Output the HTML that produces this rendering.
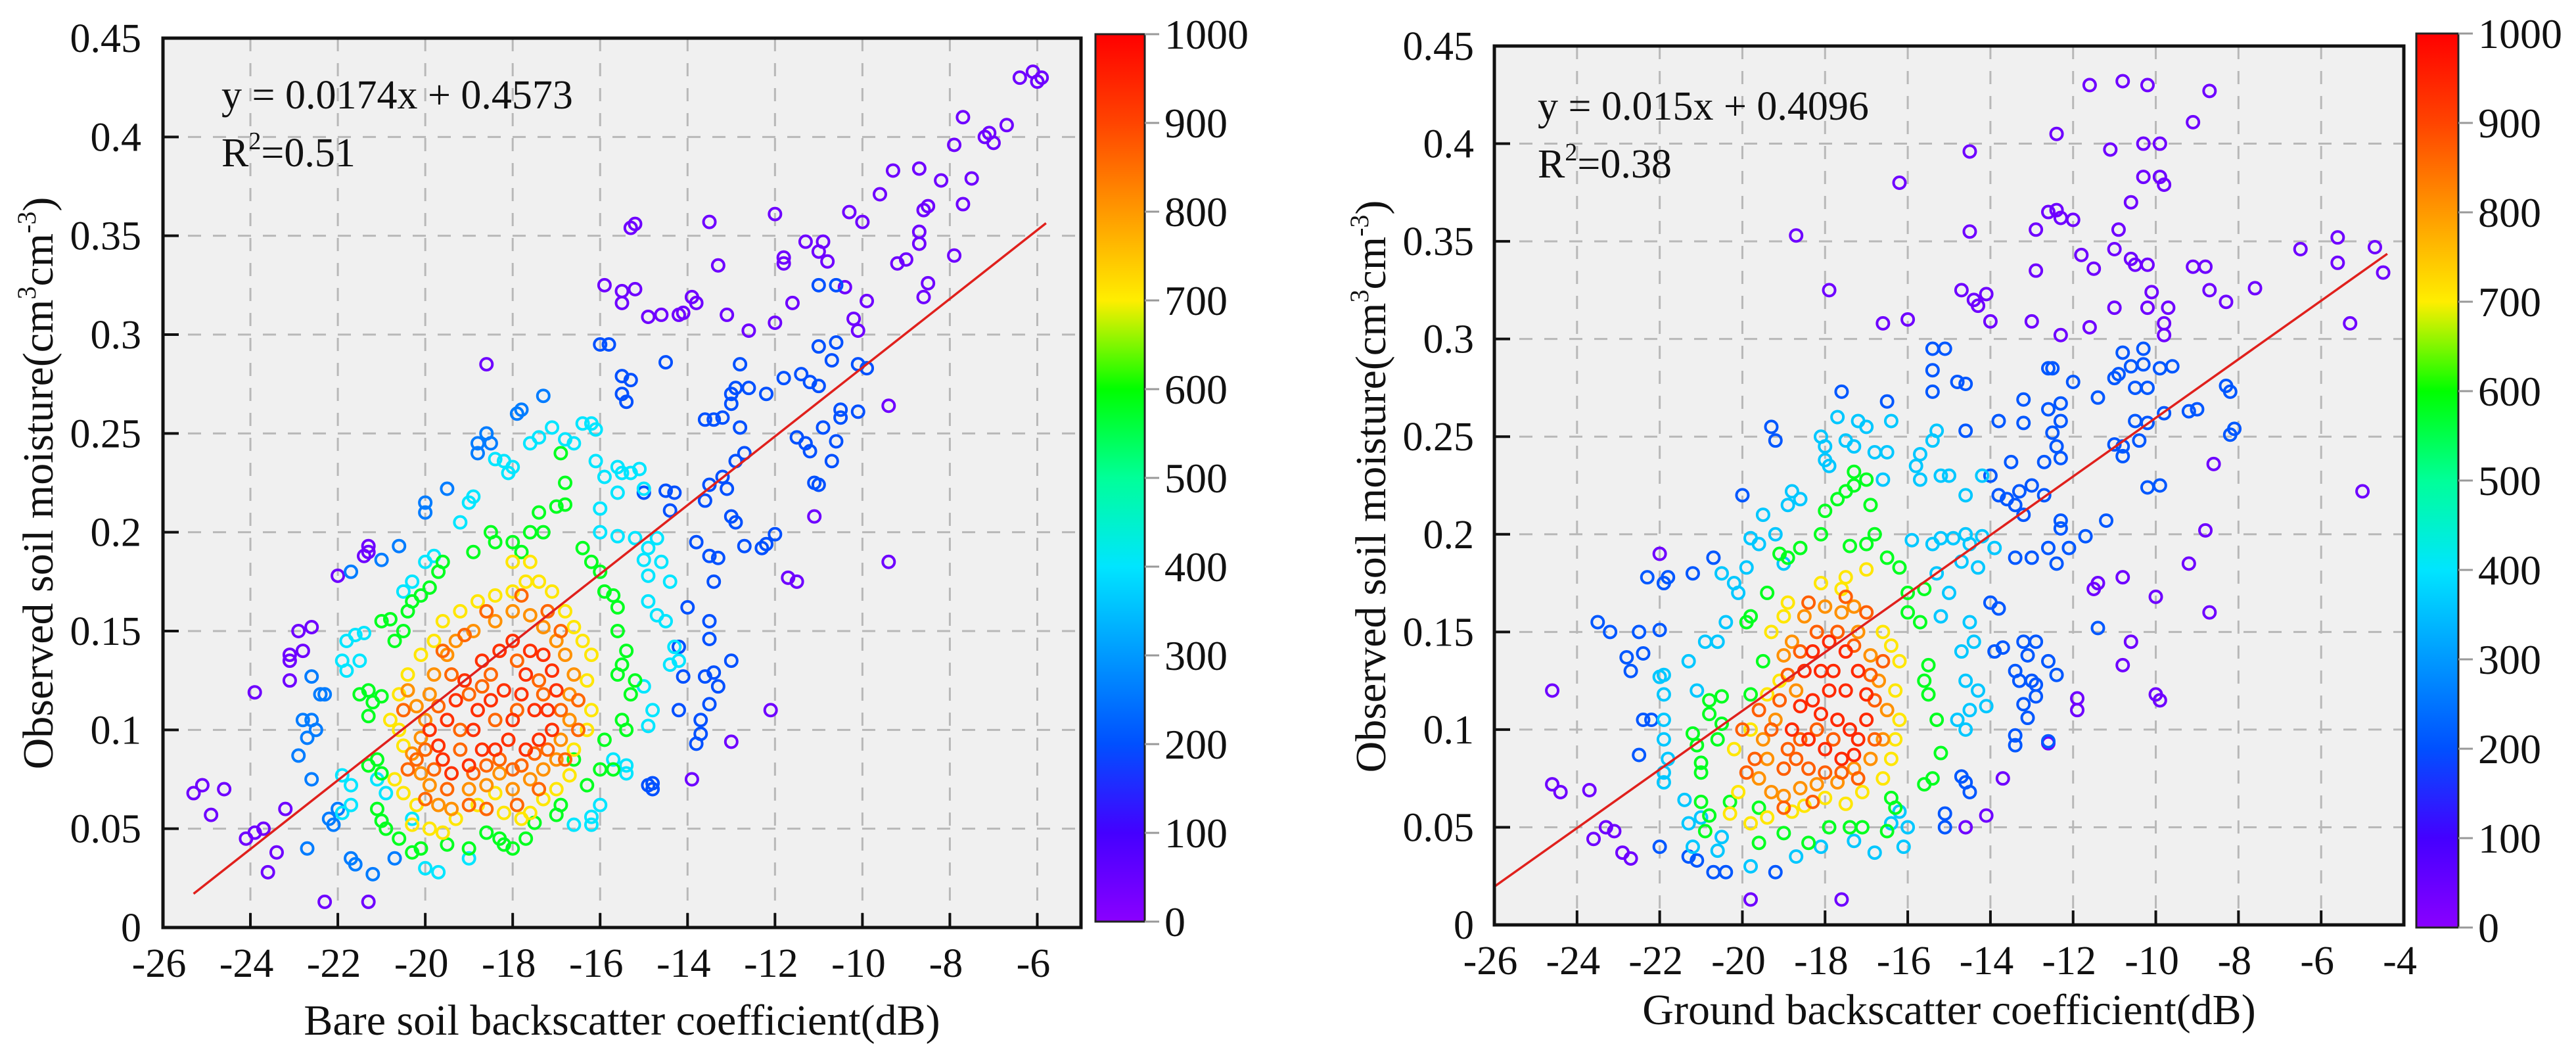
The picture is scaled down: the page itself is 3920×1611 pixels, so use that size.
<!DOCTYPE html>
<html><head><meta charset="utf-8"><style>
html,body{margin:0;padding:0;background:#fff;}
svg{display:block;font-family:"Liberation Serif",serif;}
</style></head><body>
<svg id="fig" xmlns="http://www.w3.org/2000/svg" width="3920" height="1611" viewBox="0 0 3920 1611">
<defs>
<linearGradient id="cmap" x1="0" y1="1" x2="0" y2="0">
<stop offset="0" stop-color="#8a00ff"/><stop offset="0.1" stop-color="#4400ff"/><stop offset="0.2" stop-color="#0050ff"/><stop offset="0.3" stop-color="#0099ff"/><stop offset="0.4" stop-color="#00e5ff"/><stop offset="0.5" stop-color="#00ff99"/><stop offset="0.6" stop-color="#00ff00"/><stop offset="0.7" stop-color="#ffee00"/><stop offset="0.8" stop-color="#ff9900"/><stop offset="0.9" stop-color="#ff4400"/><stop offset="1" stop-color="#ff0000"/>
</linearGradient>
</defs>
</svg>
<script>
// ---- data: left panel (bare soil) ----
const leftPurple=[[-25.3,0.068],[-25.1,0.072],[-24.9,0.057],[-24.6,0.070],[-24.1,0.045],[-23.9,0.048],[-23.7,0.050],[-23.6,0.028],[-23.4,0.038],[-23.2,0.060],[-22.3,0.013],[-21.3,0.013],[-23.9,0.119],[-23.1,0.125],[-23.1,0.135],[-23.1,0.138],[-22.9,0.150],[-22.8,0.140],[-22.6,0.152],[-22.0,0.178],[-21.3,0.190],[-21.3,0.193],[-21.4,0.188],[-18.6,0.285],[-15.3,0.354],[-15.2,0.356],[-13.5,0.357],[-12.0,0.361],[-15.9,0.325],[-15.5,0.322],[-15.5,0.316],[-15.2,0.323],[-14.9,0.309],[-14.6,0.310],[-14.2,0.310],[-14.1,0.311],[-13.9,0.319],[-13.8,0.316],[-13.3,0.335],[-13.1,0.310],[-12.6,0.302],[-12.0,0.306],[-11.6,0.316],[-11.8,0.336],[-11.8,0.339],[-11.3,0.347],[-11.0,0.342],[-10.9,0.347],[-10.8,0.337],[-10.4,0.324],[-10.3,0.362],[-10.0,0.357],[-9.6,0.371],[-9.3,0.383],[-8.7,0.384],[-8.5,0.365],[-8.6,0.363],[-8.2,0.378],[-7.9,0.396],[-7.7,0.410],[-7.5,0.379],[-7.2,0.400],[-7.1,0.402],[-7.0,0.397],[-6.7,0.406],[-6.4,0.430],[-6.1,0.433],[-6.0,0.428],[-5.9,0.430],[-7.7,0.366],[-7.9,0.340],[-8.7,0.352],[-8.7,0.346],[-8.6,0.319],[-8.5,0.326],[-9.0,0.338],[-9.2,0.336],[-9.9,0.317],[-10.2,0.308],[-10.1,0.302],[-9.4,0.264],[-9.4,0.185],[-11.1,0.208],[-12.1,0.110],[-11.7,0.177],[-11.5,0.175],[-13.0,0.094],[-13.9,0.075]];
const leftBlue=[[-16.0,0.295],[-15.8,0.295],[-15.5,0.279],[-15.3,0.277],[-15.5,0.270],[-15.4,0.266],[-14.5,0.286],[-13.6,0.257],[-13.4,0.257],[-13.2,0.258],[-13.0,0.265],[-13.0,0.270],[-12.9,0.273],[-12.8,0.285],[-12.6,0.273],[-12.2,0.270],[-11.8,0.278],[-11.4,0.280],[-11.2,0.276],[-11.0,0.274],[-11.0,0.294],[-10.6,0.296],[-10.7,0.287],[-10.5,0.262],[-10.5,0.258],[-10.6,0.246],[-10.9,0.253],[-10.7,0.236],[-11.2,0.241],[-11.5,0.248],[-11.3,0.245],[-11.0,0.224],[-11.1,0.225],[-12.8,0.253],[-12.7,0.240],[-12.9,0.236],[-13.1,0.222],[-13.2,0.228],[-13.5,0.224],[-13.6,0.216],[-12.9,0.205],[-13.0,0.208],[-12.7,0.193],[-12.3,0.192],[-12.2,0.194],[-12.0,0.199],[-10.1,0.285],[-9.9,0.283],[-10.1,0.261],[-10.6,0.325],[-11.0,0.325],[-13.8,0.195],[-13.5,0.188],[-13.4,0.175],[-13.3,0.187],[-13.5,0.155],[-13.5,0.146],[-13.0,0.135],[-13.4,0.129],[-13.6,0.127],[-13.3,0.122],[-13.5,0.113],[-13.7,0.105],[-13.7,0.098],[-13.8,0.093],[-14.0,0.162],[-14.2,0.142],[-14.1,0.127],[-14.2,0.110],[-14.8,0.073],[-14.8,0.070],[-14.9,0.072],[-14.4,0.211],[-14.5,0.221],[-14.3,0.220],[-15.0,0.220]];
const leftBlue2=[[-22.6,0.127],[-22.4,0.118],[-22.3,0.118],[-22.8,0.105],[-22.6,0.105],[-22.5,0.100],[-22.7,0.096],[-22.9,0.087],[-22.6,0.075],[-22.7,0.040],[-21.2,0.027],[-20.7,0.035],[-21.6,0.032],[-21.7,0.035],[-22.0,0.060],[-22.2,0.055],[-22.1,0.052],[-21.7,0.180],[-21.0,0.186],[-20.6,0.193],[-19.5,0.222],[-20.0,0.215],[-20.0,0.210],[-18.6,0.250],[-18.8,0.245],[-18.8,0.240],[-18.5,0.245],[-17.9,0.260],[-17.8,0.262],[-17.3,0.269]];
const leftCyan=[[-21.8,0.145],[-21.6,0.148],[-21.4,0.149],[-21.9,0.135],[-21.8,0.130],[-21.5,0.135],[-21.9,0.077],[-21.7,0.072],[-21.7,0.062],[-21.9,0.058],[-21.1,0.075],[-20.9,0.068],[-20.3,0.055],[-20.0,0.030],[-19.7,0.028],[-19.0,0.035],[-20.5,0.170],[-20.3,0.175],[-20.0,0.185],[-19.8,0.188],[-19.2,0.205],[-19.0,0.215],[-18.9,0.218],[-18.4,0.237],[-18.2,0.236],[-18.1,0.230],[-18.0,0.233],[-17.6,0.245],[-17.4,0.248],[-17.1,0.253],[-16.8,0.247],[-16.6,0.245],[-16.4,0.255],[-16.2,0.255],[-16.1,0.252],[-16.1,0.236],[-15.9,0.228],[-15.6,0.233],[-15.5,0.230],[-15.3,0.230],[-15.1,0.232],[-15.0,0.222],[-15.6,0.220],[-16.0,0.212],[-16.0,0.200],[-15.6,0.198],[-15.2,0.197],[-14.9,0.192],[-14.7,0.197],[-14.6,0.185],[-14.9,0.178],[-15.0,0.186],[-14.9,0.165],[-14.7,0.158],[-14.5,0.155],[-14.4,0.175],[-14.3,0.142],[-14.2,0.135],[-14.4,0.133],[-16.0,0.062],[-16.2,0.056],[-16.2,0.052],[-16.6,0.052],[-15.4,0.078],[-15.4,0.082],[-15.7,0.085],[-14.9,0.102],[-14.8,0.110],[-15.0,0.122]];
const leftGreen=[[-21.5,0.118],[-21.3,0.120],[-21.2,0.114],[-21.3,0.107],[-21.0,0.117],[-21.3,0.082],[-21.1,0.085],[-21.0,0.078],[-21.1,0.060],[-21.0,0.054],[-20.9,0.050],[-20.6,0.045],[-20.3,0.038],[-20.1,0.040],[-19.5,0.042],[-19.0,0.040],[-18.6,0.048],[-18.3,0.045],[-18.2,0.042],[-18.0,0.040],[-17.7,0.045],[-17.5,0.053],[-17.0,0.057],[-16.9,0.062],[-21.0,0.155],[-20.8,0.156],[-20.5,0.150],[-20.7,0.145],[-20.4,0.160],[-20.3,0.165],[-20.1,0.168],[-19.9,0.172],[-19.6,0.185],[-19.7,0.180],[-18.9,0.190],[-18.5,0.200],[-18.4,0.195],[-18.0,0.195],[-17.8,0.190],[-17.6,0.200],[-17.4,0.210],[-17.3,0.200],[-17.0,0.213],[-16.8,0.214],[-16.8,0.225],[-16.9,0.240],[-16.4,0.192],[-16.2,0.185],[-16.0,0.180],[-15.9,0.170],[-15.7,0.168],[-15.6,0.162],[-15.6,0.150],[-15.4,0.140],[-15.5,0.133],[-15.6,0.128],[-15.3,0.118],[-15.2,0.125],[-15.5,0.105],[-15.4,0.100],[-15.9,0.095],[-16.0,0.080],[-15.7,0.080],[-16.3,0.072],[-16.6,0.085]];
const leftYellow=[[-20.8,0.105],[-20.6,0.100],[-20.5,0.092],[-20.7,0.075],[-20.5,0.068],[-20.2,0.062],[-20.3,0.052],[-19.9,0.050],[-19.6,0.048],[-19.3,0.055],[-18.8,0.062],[-18.4,0.068],[-18.2,0.058],[-17.8,0.055],[-17.6,0.058],[-17.3,0.065],[-17.0,0.070],[-16.7,0.077],[-16.6,0.090],[-16.3,0.100],[-16.2,0.110],[-16.3,0.125],[-16.2,0.138],[-16.4,0.145],[-16.6,0.152],[-16.8,0.160],[-17.1,0.170],[-17.4,0.175],[-17.7,0.175],[-18.0,0.170],[-18.4,0.168],[-18.8,0.165],[-19.2,0.160],[-19.6,0.155],[-19.8,0.145],[-20.1,0.138],[-20.4,0.128],[-20.6,0.118],[-17.6,0.185],[-18.0,0.185]];
const leftOrange=[[-20.4,0.120],[-20.2,0.112],[-20.0,0.105],[-20.1,0.096],[-20.3,0.088],[-20.1,0.078],[-19.9,0.072],[-19.7,0.062],[-19.4,0.060],[-19.0,0.070],[-18.6,0.072],[-18.3,0.078],[-18.0,0.070],[-17.6,0.075],[-17.3,0.080],[-17.0,0.085],[-16.9,0.095],[-16.7,0.105],[-16.7,0.118],[-16.6,0.128],[-16.8,0.138],[-17.0,0.145],[-17.3,0.152],[-17.6,0.158],[-18.0,0.160],[-18.4,0.155],[-18.9,0.150],[-19.3,0.145],[-19.5,0.138],[-19.8,0.128],[-19.9,0.118]];
const leftCore=[[-20.2,0.085],[-19.8,0.080],[-19.5,0.070],[-19.2,0.090],[-18.9,0.078],[-18.6,0.082],[-18.3,0.085],[-18.0,0.080],[-17.8,0.082],[-17.5,0.088],[-17.2,0.090],[-16.9,0.110],[-17.4,0.125],[-17.9,0.135],[-18.5,0.128],[-19.0,0.118],[-19.4,0.128],[-19.7,0.112],[-20.0,0.090],[-18.4,0.105],[-18.7,0.122],[-17.9,0.110],[-17.3,0.118],[-19.2,0.100],[-19.0,0.062],[-18.6,0.060],[-17.9,0.062],[-17.4,0.070],[-20.0,0.065],[-20.4,0.080],[-20.5,0.110],[-19.6,0.140],[-19.1,0.148],[-18.6,0.160],[-17.8,0.168],[-17.2,0.160],[-16.9,0.150],[-16.5,0.115],[-16.5,0.100],[-16.8,0.085]];
const leftRed=[[-19.9,0.100],[-19.7,0.092],[-19.6,0.085],[-19.4,0.078],[-19.0,0.082],[-18.7,0.090],[-18.4,0.090],[-18.1,0.095],[-17.7,0.090],[-17.4,0.095],[-17.1,0.100],[-17.2,0.110],[-17.0,0.120],[-17.1,0.130],[-17.3,0.138],[-17.6,0.140],[-18.0,0.145],[-18.3,0.140],[-18.7,0.135],[-19.1,0.125],[-19.3,0.115],[-19.5,0.105],[-18.2,0.120],[-18.5,0.115],[-17.8,0.118],[-18.9,0.100],[-17.5,0.110],[-18.0,0.105],[-18.8,0.110],[-17.7,0.128]];
const leftGroups=[[leftPurple,40],[leftBlue,200],[leftBlue2,260],[leftCyan,400],[leftGreen,580],[leftYellow,710],[leftOrange,810],[leftCore,860],[leftRed,930]];
const leftFit=[0.0174,0.4573];
const leftFitRange=[-25.3,-5.8];

// ---- data: right panel (ground) ----
const rightPurple=[[-24.6,0.120],[-24.6,0.072],[-24.4,0.068],[-23.7,0.069],[-23.6,0.044],[-23.3,0.050],[-23.1,0.048],[-22.9,0.037],[-22.7,0.034],[-22.0,0.190],[-18.7,0.353],[-17.9,0.325],[-16.2,0.380],[-16.6,0.308],[-16.0,0.310],[-14.5,0.396],[-14.5,0.355],[-14.7,0.325],[-14.4,0.320],[-14.1,0.323],[-14.3,0.317],[-14.0,0.309],[-13.0,0.309],[-12.9,0.335],[-12.9,0.356],[-12.6,0.365],[-12.4,0.366],[-12.3,0.362],[-12.4,0.405],[-12.0,0.361],[-11.8,0.343],[-11.5,0.336],[-11.6,0.430],[-10.8,0.432],[-10.2,0.430],[-11.1,0.397],[-10.3,0.400],[-9.9,0.400],[-10.3,0.383],[-9.9,0.383],[-9.8,0.379],[-10.6,0.370],[-10.9,0.356],[-11.0,0.346],[-10.6,0.341],[-10.2,0.338],[-10.5,0.338],[-9.1,0.411],[-8.7,0.427],[-9.1,0.337],[-8.8,0.337],[-8.7,0.325],[-8.3,0.319],[-7.6,0.326],[-6.5,0.346],[-5.6,0.352],[-5.6,0.339],[-5.3,0.308],[-4.7,0.347],[-4.5,0.334],[-5.0,0.222],[-8.6,0.236],[-8.8,0.202],[-9.2,0.185],[-8.7,0.160],[-10.0,0.168],[-10.0,0.118],[-9.9,0.115],[-10.8,0.178],[-10.6,0.145],[-10.8,0.133],[-11.4,0.175],[-11.5,0.172],[-11.9,0.116],[-11.9,0.110],[-12.6,0.093],[-13.7,0.075],[-14.1,0.056],[-14.6,0.050],[-17.6,0.013],[-19.8,0.013],[-10.1,0.324],[-9.7,0.316],[-10.2,0.316],[-11.0,0.316],[-9.8,0.308],[-9.8,0.302],[-11.6,0.306],[-12.3,0.302]];
const rightBlue=[[-20.7,0.188],[-21.2,0.180],[-21.8,0.178],[-21.9,0.175],[-22.3,0.178],[-19.3,0.255],[-19.2,0.248],[-20.0,0.220],[-23.5,0.155],[-23.2,0.150],[-22.5,0.150],[-22.0,0.151],[-22.8,0.137],[-22.7,0.130],[-22.4,0.139],[-22.4,0.105],[-22.2,0.105],[-22.5,0.087],[-22.0,0.040],[-21.3,0.035],[-21.1,0.033],[-20.7,0.027],[-20.4,0.027],[-19.2,0.027],[-17.6,0.273],[-16.5,0.268],[-15.4,0.295],[-15.1,0.295],[-15.4,0.284],[-15.4,0.273],[-14.8,0.278],[-14.6,0.277],[-14.6,0.253],[-13.2,0.269],[-13.2,0.257],[-12.6,0.285],[-12.5,0.285],[-12.6,0.264],[-12.3,0.267],[-12.3,0.258],[-12.5,0.252],[-12.4,0.245],[-12.3,0.239],[-12.7,0.237],[-12.0,0.278],[-11.4,0.270],[-11.0,0.280],[-10.9,0.282],[-10.8,0.293],[-10.6,0.286],[-10.3,0.287],[-10.3,0.295],[-10.5,0.275],[-10.2,0.275],[-10.2,0.257],[-9.9,0.285],[-9.6,0.286],[-10.5,0.258],[-10.4,0.248],[-10.8,0.245],[-11.0,0.246],[-10.8,0.240],[-9.8,0.262],[-9.2,0.263],[-9.0,0.264],[-8.3,0.276],[-8.2,0.273],[-8.1,0.254],[-8.2,0.251],[-10.2,0.224],[-9.9,0.225],[-11.2,0.207],[-11.7,0.199],[-12.3,0.207],[-12.3,0.203],[-12.6,0.193],[-12.4,0.185],[-12.1,0.193],[-11.4,0.152],[-12.4,0.128],[-12.6,0.135],[-12.9,0.123],[-12.9,0.117],[-13.0,0.125],[-13.1,0.138],[-13.2,0.145],[-12.9,0.145],[-13.4,0.130],[-13.3,0.125],[-13.1,0.106],[-13.2,0.113],[-13.4,0.097],[-13.4,0.092],[-12.6,0.094],[-13.9,0.140],[-13.7,0.142],[-14.0,0.165],[-13.8,0.162],[-13.4,0.188],[-13.0,0.188],[-13.2,0.210],[-13.3,0.222],[-13.0,0.225],[-12.7,0.220],[-13.4,0.215],[-13.6,0.218],[-13.8,0.220],[-14.0,0.230],[-13.8,0.258],[-13.5,0.237],[-14.6,0.073],[-14.5,0.068],[-14.7,0.076],[-15.1,0.057],[-15.1,0.050]];
const rightCyan=[[-22.0,0.127],[-21.9,0.118],[-21.9,0.128],[-21.9,0.105],[-21.9,0.095],[-21.8,0.085],[-21.9,0.078],[-21.9,0.073],[-21.4,0.064],[-21.3,0.052],[-21.0,0.055],[-21.2,0.040],[-21.3,0.135],[-21.1,0.120],[-20.9,0.145],[-20.6,0.145],[-20.4,0.155],[-20.5,0.180],[-20.2,0.175],[-20.1,0.170],[-19.9,0.183],[-19.8,0.198],[-19.6,0.195],[-19.5,0.210],[-19.2,0.200],[-19.0,0.185],[-18.9,0.215],[-18.8,0.222],[-18.6,0.218],[-18.1,0.250],[-18.0,0.245],[-18.0,0.238],[-17.9,0.235],[-17.5,0.248],[-17.7,0.260],[-17.2,0.258],[-17.0,0.255],[-17.3,0.245],[-16.8,0.242],[-16.4,0.258],[-16.5,0.242],[-16.6,0.228],[-15.7,0.241],[-15.8,0.235],[-15.7,0.228],[-15.2,0.230],[-15.0,0.230],[-14.6,0.220],[-15.3,0.253],[-15.4,0.248],[-14.2,0.230],[-15.9,0.197],[-15.2,0.198],[-15.4,0.195],[-14.9,0.198],[-14.6,0.200],[-14.5,0.195],[-14.2,0.199],[-14.7,0.186],[-14.3,0.183],[-13.9,0.193],[-15.0,0.170],[-15.2,0.158],[-15.3,0.180],[-14.5,0.155],[-14.4,0.145],[-14.7,0.140],[-14.6,0.125],[-14.3,0.120],[-14.5,0.110],[-14.1,0.112],[-14.6,0.100],[-14.8,0.105],[-16.0,0.050],[-16.1,0.040],[-16.4,0.052],[-16.2,0.058],[-16.8,0.037],[-17.3,0.043],[-18.1,0.040],[-18.7,0.035],[-19.8,0.030],[-20.5,0.045],[-20.6,0.038]];
const rightGreen=[[-21.2,0.098],[-21.1,0.092],[-21.0,0.083],[-21.0,0.078],[-20.8,0.115],[-20.5,0.117],[-20.8,0.108],[-20.6,0.095],[-20.5,0.103],[-21.0,0.063],[-20.8,0.056],[-20.9,0.048],[-20.3,0.063],[-19.9,0.155],[-19.8,0.158],[-19.5,0.135],[-19.8,0.118],[-19.1,0.190],[-19.4,0.170],[-18.9,0.188],[-18.6,0.193],[-18.1,0.200],[-18.0,0.212],[-17.7,0.218],[-17.5,0.222],[-17.3,0.225],[-17.3,0.232],[-17.0,0.228],[-16.9,0.215],[-16.8,0.200],[-16.5,0.188],[-16.2,0.183],[-16.0,0.170],[-16.0,0.160],[-15.6,0.172],[-15.7,0.155],[-15.5,0.133],[-15.6,0.125],[-15.5,0.118],[-15.3,0.105],[-15.2,0.088],[-15.4,0.075],[-15.6,0.072],[-16.4,0.065],[-16.3,0.060],[-16.5,0.048],[-17.1,0.050],[-17.4,0.050],[-17.9,0.050],[-18.4,0.042],[-19.0,0.047],[-19.6,0.042],[-19.6,0.060],[-17.4,0.194],[-17.0,0.195]];
const rightYellow=[[-20.1,0.068],[-20.3,0.057],[-19.8,0.052],[-19.4,0.055],[-18.8,0.058],[-18.5,0.061],[-18.0,0.065],[-17.5,0.062],[-17.1,0.068],[-16.6,0.075],[-16.4,0.085],[-16.3,0.095],[-16.2,0.105],[-16.3,0.120],[-16.2,0.135],[-16.4,0.143],[-16.6,0.150],[-19.3,0.150],[-19.0,0.158],[-18.9,0.165],[-19.1,0.125],[-19.4,0.118],[-19.8,0.100],[-20.2,0.090],[-18.1,0.175],[-17.5,0.178],[-17.0,0.182],[-17.6,0.172]];
const rightOrange=[[-19.6,0.075],[-19.3,0.068],[-19.0,0.066],[-18.6,0.070],[-18.2,0.072],[-17.7,0.073],[-17.3,0.080],[-16.9,0.085],[-16.6,0.095],[-16.5,0.110],[-16.7,0.125],[-16.9,0.138],[-17.2,0.150],[-17.6,0.160],[-18.0,0.163],[-18.5,0.158],[-18.8,0.145],[-19.0,0.138],[-19.2,0.105],[-19.5,0.095],[-19.4,0.085],[-18.7,0.120],[-17.3,0.163]];
const rightCore=[[-19.0,0.080],[-18.7,0.085],[-18.4,0.080],[-18.0,0.078],[-17.6,0.078],[-17.2,0.075],[-16.8,0.095],[-16.8,0.115],[-16.9,0.128],[-17.3,0.143],[-17.7,0.150],[-18.2,0.150],[-18.6,0.140],[-18.9,0.128],[-19.1,0.115],[-19.3,0.100],[-18.6,0.095],[-18.2,0.100],[-17.8,0.095],[-18.9,0.090],[-19.7,0.085],[-19.9,0.078],[-20.0,0.100],[-19.6,0.110],[-18.4,0.165],[-17.0,0.160],[-16.6,0.135],[-17.5,0.168],[-19.0,0.060],[-18.3,0.063]];
const rightRed=[[-18.8,0.100],[-18.4,0.095],[-18.0,0.090],[-17.6,0.085],[-17.3,0.087],[-17.2,0.095],[-17.0,0.105],[-17.0,0.118],[-17.2,0.130],[-17.5,0.140],[-17.9,0.145],[-18.3,0.140],[-18.5,0.130],[-18.3,0.115],[-17.9,0.120],[-17.7,0.105],[-18.1,0.108],[-17.5,0.120],[-18.6,0.112],[-17.4,0.100],[-17.8,0.130],[-18.1,0.130]];
const rightGroups=[[rightPurple,40],[rightBlue,210],[rightCyan,360],[rightGreen,580],[rightYellow,710],[rightOrange,810],[rightCore,870],[rightRed,940]];
const rightFit=[0.015,0.4096];
const rightFitRange=[-26,-4.4];

const yTicks=[0,0.05,0.1,0.15,0.2,0.25,0.3,0.35,0.4,0.45];
const yTickLabels=["0","0.05","0.1","0.15","0.2","0.25","0.3","0.35","0.4","0.45"];
const leftXTicks=[-26,-24,-22,-20,-18,-16,-14,-12,-10,-8,-6];
const rightXTicks=[-26,-24,-22,-20,-18,-16,-14,-12,-10,-8,-6,-4];
const cbTicks=[0,100,200,300,400,500,600,700,800,900,1000];

const NS="http://www.w3.org/2000/svg";
const svg=document.getElementById('fig');
function mk(tag,attrs,parent){const e=document.createElementNS(NS,tag);for(const k in attrs)e.setAttribute(k,attrs[k]);(parent||svg).appendChild(e);return e;}
const stops=[[0,[138,0,255]],[100,[68,0,255]],[200,[0,80,255]],[300,[0,153,255]],[400,[0,229,255]],[500,[0,255,153]],[600,[0,255,0]],[700,[255,238,0]],[800,[255,153,0]],[900,[255,68,0]],[1000,[255,0,0]]];
function cmap(v){for(let i=0;i<stops.length-1;i++){const a=stops[i],b=stops[i+1];if(v<=b[0]){const t=(v-a[0])/(b[0]-a[0]);return 'rgb('+a[1].map((c,j)=>Math.round(c+(b[1][j]-c)*t)).join(',')+')';}}return 'rgb(255,0,0)';}

function panel(o){
  const sx=v=>o.x0+(v-o.xmin)/(o.xmax-o.xmin)*(o.x1-o.x0);
  const sy=v=>o.y0-(v-0)/0.45*(o.y0-o.y1);
  const g=mk('g',{});
  
  
  const bg=mk('rect',{x:o.x0,y:o.y1,width:o.x1-o.x0,height:o.y0-o.y1,fill:'#f0f0f0'},g);
  
  
  o.xticks.forEach(t=>{const x=sx(t);if(x>o.x0+2&&x<o.x1-2){const l=mk('line',{x1:x,x2:x,y1:o.y1,y2:o.y0,stroke:'#b8b8b8','stroke-width':3,'stroke-dasharray':'20 18'},g);}});
  yTicks.forEach(t=>{const y=sy(t);if(y>o.y1+2&&y<o.y0-2){const l=mk('line',{x1:o.x0,x2:o.x1,y1:y,y2:y,stroke:'#b8b8b8','stroke-width':3,'stroke-dasharray':'20 18'},g);}});
  const pg=mk('g',{fill:'none','stroke-width':4},g);
  
  
  o.groups.forEach(gr=>{gr[0].forEach(p=>{const c=mk('circle',{cx:sx(p[0]),cy:sy(p[1]),r:9,stroke:cmap(gr[1])},pg);});});
  const fl=mk('line',{x1:sx(o.fr[0]),y1:sy(o.fit[0]*o.fr[0]+o.fit[1]),x2:sx(o.fr[1]),y2:sy(o.fit[0]*o.fr[1]+o.fit[1]),stroke:'#e0201c','stroke-width':3.5},g);
  
  
  const fr=mk('rect',{x:o.x0,y:o.y1,width:o.x1-o.x0,height:o.y0-o.y1,fill:'none',stroke:'#111','stroke-width':5},g);
  
  
  o.xticks.forEach(t=>{const x=sx(t);
    const tk=mk('line',{x1:x,x2:x,y1:o.y0,y2:o.y0-22,stroke:'#111','stroke-width':4},g);
    const tl=mk('text',{x:x-6,y:o.xlabY,'text-anchor':'middle','font-size':62,fill:'#111'},g);tl.textContent='-'+Math.abs(t);});
  yTicks.forEach((t,i)=>{const y=sy(t);
    const tk=mk('line',{x1:o.x0,x2:o.x0+24,y1:y,y2:y,stroke:'#111','stroke-width':4},g);
    const tl=mk('text',{x:o.ylabX,y:y+21,'text-anchor':'end','font-size':62,fill:'#111'},g);tl.textContent=yTickLabels[i];});
  const xt=mk('text',{x:(o.x0+o.x1)/2,y:o.xtY,'text-anchor':'middle','font-size':66,fill:'#111'},g);xt.textContent=o.xtitle;
  const yt=mk('text',{x:0,y:0,'text-anchor':'middle','font-size':66,fill:'#111',transform:'translate('+o.ytX+','+o.ytY+') rotate(-90)'},g);
  yt.innerHTML='Observed soil moisture(cm<tspan font-size="40" dy="-26">3</tspan><tspan dy="26">cm</tspan><tspan font-size="40" dy="-26">-3</tspan><tspan dy="26">)</tspan>';
  
  const eq=mk('text',{x:o.eqX,y:o.eqY,'font-size':62,fill:'#111'},g);eq.textContent=o.eq;
  const r2=mk('text',{x:o.eqX,y:o.eqY+88,'font-size':62,fill:'#111'},g);
  r2.innerHTML='R<tspan font-size="38" dy="-26">2</tspan><tspan dy="26">='+o.r2+'</tspan>';
  
  const cb=mk('rect',{x:o.cbx0,y:o.cby1,width:o.cbx1-o.cbx0,height:o.cby0-o.cby1,fill:'url(#cmap)',stroke:'#222','stroke-width':3},g);
  
  cbTicks.forEach(t=>{const y=o.cby0-t/1000*(o.cby0-o.cby1);
    const tk=mk('line',{x1:o.cbx1,x2:o.cbx1+22,y1:y,y2:y,stroke:'#999','stroke-width':3},g);
    const tl=mk('text',{x:o.cbx1+30,y:y+22,'font-size':64,fill:'#111'},g);tl.textContent=String(t);});
}

panel({name:'bare-soil',x0:248,x1:1645,xmin:-26,xmax:-5,y0:1411,y1:58,xticks:leftXTicks,groups:leftGroups,fit:leftFit,fr:leftFitRange,
  xlabY:1486,ylabX:215,xtY:1574,xtitle:'Bare soil backscatter coefficient(dB)',ytX:80,ytY:735,eqX:337,eqY:165,eq:'y = 0.0174x + 0.4573',r2:'0.51',
  cbx0:1667,cbx1:1742,cby0:1402,cby1:52});
panel({name:'ground',x0:2274,x1:3658,xmin:-26,xmax:-4,y0:1407,y1:70,xticks:rightXTicks,groups:rightGroups,fit:rightFit,fr:rightFitRange,
  xlabY:1482,ylabX:2243,xtY:1558,xtitle:'Ground backscatter coefficient(dB)',ytX:2108,ytY:740,eqX:2340,eqY:182,eq:'y = 0.015x + 0.4096',r2:'0.38',
  cbx0:3677,cbx1:3741,cby0:1411,cby1:51});
</script>
</body></html>
